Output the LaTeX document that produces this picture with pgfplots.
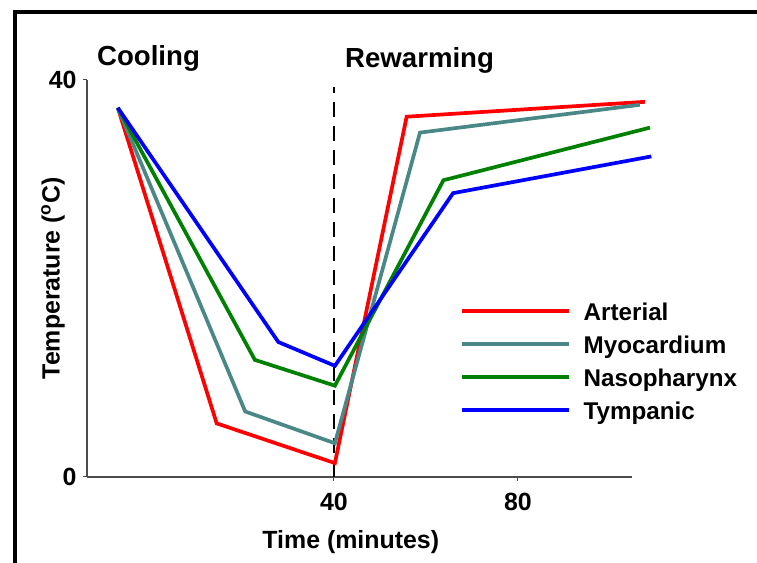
\documentclass[border=0pt]{standalone}
\usepackage{pgfplots}
\pgfplotsset{compat=1.18}
\usepackage{fontspec}
\setmainfont{Liberation Sans}
\definecolor{teal1}{RGB}{74,136,136}
\definecolor{grn}{RGB}{0,128,0}
\begin{document}
\begin{tikzpicture}[x=1bp,y=1bp]
\path[use as bounding box] (-87,-86) rectangle (670,477);
\draw[line width=4bp, line join=miter] (-72.3,-100) -- (-72.3,465) -- (690,465);
\begin{axis}[
  at={(0,0)}, anchor=south west,
  scale only axis, width=545bp, height=397bp,
  xmin=-13.7, xmax=104.8, ymin=0, ymax=40,
  axis lines=left,
  axis line style={-, draw=black!70, line width=1.2bp},
  tick style={draw=black!70, line width=1bp},
  major tick length=4bp,
  tick align=outside,
  xtick={40,80}, ytick={0,40},
  /pgf/number format/assume math mode=true,
  ticklabel style={font=\bfseries\fontsize{25}{25}\selectfont},
  xticklabel style={yshift=-9bp},
  yticklabel style={xshift=-3bp},
  clip=false,
  xlabel={Time (minutes)},
  ylabel={Temperature (\textsuperscript{o}C)},
  every axis x label/.style={at={(axis description cs:0.484,-0.164)}, anchor=center, font=\bfseries\fontsize{25}{25}\selectfont},
  every axis y label/.style={at={(axis description cs:-0.0624,0.5)}, rotate=90, anchor=center, font=\bfseries\fontsize{25}{25}\selectfont},
  legend style={at={(axis description cs:0.6844,0.4458)}, anchor=north west,
    draw=none, fill=none, inner sep=0pt, outer sep=0pt,
    font=\bfseries\fontsize{24.3}{24.3}\selectfont,
    row sep=11bp, column sep=13bp,
    nodes={inner sep=0pt, text height=20bp, text depth=2bp}},
  legend cell align=left,
  legend image code/.code={\draw[#1] (0bp,0bp) -- (107bp,0bp);},
]
\addplot[black, line width=2bp, dash pattern=on 15bp off 9bp, forget plot] coordinates {(40,0) (40,39.3)};
\addplot[red, line width=3.7bp] coordinates {(-7,37.2) (14.5,5.4) (40.2,1.4) (55.8,36.3) (107.6,37.8)};
\addlegendentry{Arterial}
\addplot[teal1, line width=3.7bp] coordinates {(-7,37.2) (20.7,6.6) (40.2,3.4) (58.7,34.7) (106.5,37.5)};
\addlegendentry{Myocardium}
\addplot[grn, line width=3.7bp] coordinates {(-7,37.2) (22.8,11.8) (40.2,9.2) (63.8,29.9) (108.7,35.2)};
\addlegendentry{Nasopharynx}
\addplot[blue, line width=3.7bp] coordinates {(-7,37.2) (27.9,13.6) (40.2,11.2) (65.9,28.6) (109,32.3)};
\addlegendentry{Tympanic}
\node[anchor=base west, font=\bfseries\fontsize{27.7}{27.7}\selectfont, inner sep=0pt] at (axis description cs:0.0183,1.0353) {Cooling};
\node[anchor=base west, font=\bfseries\fontsize{27.7}{27.7}\selectfont, inner sep=0pt] at (axis description cs:0.4734,1.0327) {Rewarming};
\end{axis}
\end{tikzpicture}
\end{document}
